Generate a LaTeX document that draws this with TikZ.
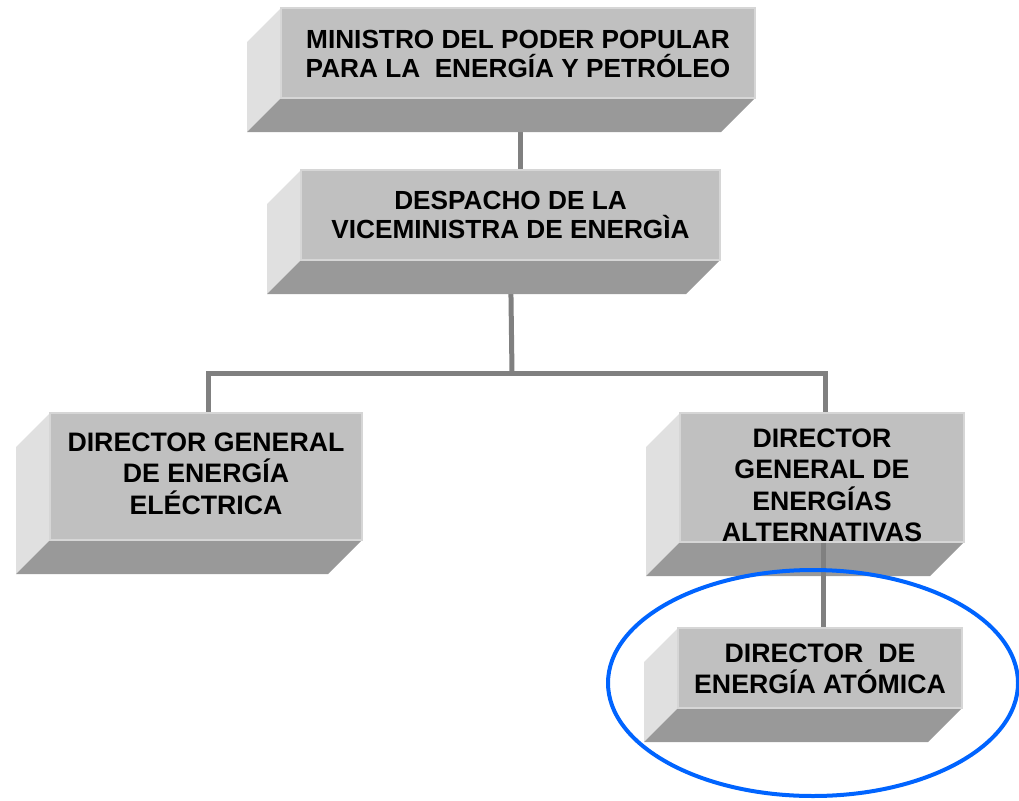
\documentclass[tikz,border=0pt]{standalone}
\usepackage{fontspec}
\setmainfont{Liberation Sans}
\usetikzlibrary{shapes.geometric}
\pgfdeclarelayer{bg}
\pgfsetlayers{bg,main}
\definecolor{frontc}{RGB}{192,192,192}
\definecolor{sidec}{RGB}{224,224,224}
\definecolor{bottomc}{RGB}{153,153,153}
\definecolor{edgec}{RGB}{214,214,214}
\definecolor{connc}{RGB}{128,128,128}
\definecolor{ringc}{RGB}{0,100,255}
\tikzset{
  sideface/.style={fill=sidec},
  bottomface/.style={fill=bottomc},
  frontface/.style={rectangle, fill=frontc, draw=edgec, line width=1.2pt, inner sep=0pt},
  boxtext/.style={align=center, inner sep=0pt, font=\fontsize{26.7}{31.5}\selectfont\bfseries},
  toptext/.style={boxtext, font=\fontsize{26.2}{29.5}\selectfont\bfseries},
  conn/.style={draw=connc, line width=5pt},
  ring/.style={ellipse, draw=ringc, line width=4pt, inner sep=0pt}
}
% #1 name, #2 x1, #3 y1, #4 x2, #5 y2, #6 text style and offset, #7 text
\newcommand\orgbox[7]{%
  \fill[sideface] (#2,#3) -- ++(-34,34) -- ({#2-34},{#5+34}) -- (#2,#5) -- cycle;
  \fill[bottomface] (#2,#5) -- (#4,#5) -- ({#4-34},{#5+34}) -- ({#2-34},{#5+34}) -- cycle;
  \node[frontface, minimum width={#4-#2}, minimum height={#5-#3}] (#1) at ({(#2+#4)/2},{(#3+#5)/2}) {};
  \node[#6] (#1t) at (#1.center) {#7};
}
\begin{document}
\begin{tikzpicture}[x=1pt,y=-1pt]
\useasboundingbox (0,0) rectangle (1019,800);
\orgbox{b1}{281}{8}{755}{98}{toptext, yshift=-1pt}{MINISTRO DEL PODER POPULAR\\PARA LA \ ENERGÍA Y PETRÓLEO}
\orgbox{b2}{301}{170}{720}{260}{toptext}{DESPACHO DE LA\\VICEMINISTRA DE ENERGÌA}
\orgbox{b3}{50}{413}{362}{540}{boxtext, yshift=3pt}{DIRECTOR GENERAL\\DE ENERGÍA\\ELÉCTRICA}
\orgbox{b4}{680}{413}{964}{542}{boxtext, yshift=-8pt}{DIRECTOR\\GENERAL DE\\ENERGÍAS\\ALTERNATIVAS}
\orgbox{b5}{678}{628}{962}{708}{boxtext, yshift=-1pt}{DIRECTOR \ DE\\ENERGÍA ATÓMICA}
\coordinate (hub) at (512,373);
\begin{pgfonlayer}{bg}
\draw[conn] ([xshift=2pt]b1.south) -- ([xshift=2pt]b1.south |- b2.north);
\draw[conn] (b2.south) -- (hub);
\draw[conn] (hub) -| ([xshift=2pt]b3.north);
\draw[conn] (hub) -| ([xshift=3pt]b4.north);
\end{pgfonlayer}
\draw[conn] ([xshift=1pt]b4.south) -- ([xshift=1pt]b4.south |- b5.north);
\node[ring, minimum width=410pt, minimum height=226pt] (atomring) at (813,683) {};
\end{tikzpicture}
\end{document}
